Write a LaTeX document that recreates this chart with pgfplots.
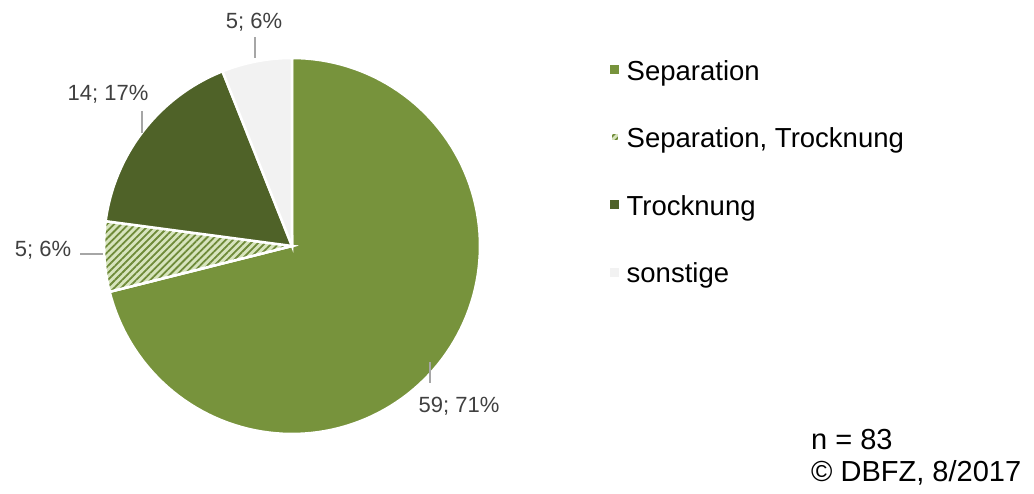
\documentclass[border=0pt]{standalone}
\usepackage{pgfplots}
\pgfplotsset{compat=1.18}
\usepackage{pgfplotstable}
\usepackage{fontspec}
\setmainfont{Liberation Sans}
\usetikzlibrary{patterns.meta}
\definecolor{sepcol}{HTML}{77933C}
\definecolor{trockcol}{HTML}{4F6228}
\definecolor{sonstcol}{HTML}{F2F2F2}
\definecolor{hatchbg}{HTML}{D7E4BD}
\definecolor{hatchfg}{HTML}{6E8A38}
\definecolor{lblcol}{HTML}{404040}
\definecolor{leadcol}{HTML}{A6A6A6}
\pgfplotstableread{
label value
Separation 59
SepTrock 5
Trocknung 14
sonstige 5
}\piedata
\begin{document}
\begin{tikzpicture}
\pgfplotstablegetelem{0}{value}\of\piedata \edef\va{\pgfplotsretval}
\pgfplotstablegetelem{1}{value}\of\piedata \edef\vb{\pgfplotsretval}
\pgfplotstablegetelem{2}{value}\of\piedata \edef\vc{\pgfplotsretval}
\pgfplotstablegetelem{3}{value}\of\piedata \edef\vd{\pgfplotsretval}
\pgfmathsetmacro{\tot}{\va+\vb+\vc+\vd}
\pgfmathsetmacro{\aA}{90}
\pgfmathsetmacro{\aB}{\aA-360*(\va/\tot)}
\pgfmathsetmacro{\aC}{\aB-360*(\vb/\tot)}
\pgfmathsetmacro{\aD}{\aC-360*(\vc/\tot)}
\pgfmathsetmacro{\aE}{\aD-360*(\vd/\tot)}
\def\cx{292}\def\cy{248}\def\R{188}
\begin{axis}[scale only axis, width=1034pt, height=494pt,
  xmin=0, xmax=1034, ymin=0, ymax=494, hide axis, clip=false,
  legend style={draw=none, fill=none, at={(axis cs:609,434)}, anchor=north west,
    row sep=41.5pt, column sep=3pt, font=\fontsize{27.5}{30}\selectfont, inner sep=0pt,
    nodes={inner xsep=3pt, inner ysep=0pt, text height=20pt, text depth=6pt}},
  legend cell align=left,
  legend image code/.code={\fill[#1, draw=none] (0pt,-1pt) rectangle (9pt,8pt);},
  every axis plot/.append style={draw=white, line width=2.5pt, samples=120, variable=\t}]
\path (axis cs:0,0) rectangle (axis cs:1034,494);
\addplot[fill=sepcol, domain=\aB:\aA] ({\cx+\R*cos(\t)},{\cy+\R*sin(\t)}) -- (axis cs:\cx,\cy) -- cycle;
\addlegendentry{Separation}
\addplot[fill=hatchbg, postaction={pattern={Lines[angle=45, distance=5pt, line width=1.8pt]}, pattern color=hatchfg}, domain=\aC:\aB] ({\cx+\R*cos(\t)},{\cy+\R*sin(\t)}) -- (axis cs:\cx,\cy) -- cycle;
\addlegendentry{Separation, Trocknung}
\addplot[fill=trockcol, domain=\aD:\aC] ({\cx+\R*cos(\t)},{\cy+\R*sin(\t)}) -- (axis cs:\cx,\cy) -- cycle;
\addlegendentry{Trocknung}
\addplot[fill=sonstcol, domain=\aE:\aD] ({\cx+\R*cos(\t)},{\cy+\R*sin(\t)}) -- (axis cs:\cx,\cy) -- cycle;
\addlegendentry{sonstige}
% leader lines
\draw[leadcol, line width=1.5pt] (axis cs:255,457) -- (axis cs:255,436);
\draw[leadcol, line width=1.5pt] (axis cs:142,383) -- (axis cs:142,361);
\draw[leadcol, line width=1.5pt] (axis cs:80,240) -- (axis cs:103,240);
\draw[leadcol, line width=1.5pt] (axis cs:430,132) -- (axis cs:430,111);
% labels
\begin{scope}[every node/.style={text=lblcol, font=\fontsize{22}{24}\selectfont, inner sep=0pt, anchor=base}]
\node at (axis cs:254,465) {5; 6\%};
\node at (axis cs:108,393) {14; 17\%};
\node at (axis cs:43,237) {5; 6\%};
\node at (axis cs:459,81) {59; 71\%};
\end{scope}
\node[anchor=base west, inner sep=0pt, font=\fontsize{29}{31}\selectfont] at (axis cs:811,44) {n = 83};
\node[anchor=base west, inner sep=0pt, font=\fontsize{29}{31}\selectfont] at (axis cs:811,12) {© DBFZ, 8/2017};
\end{axis}
\end{tikzpicture}
\end{document}
